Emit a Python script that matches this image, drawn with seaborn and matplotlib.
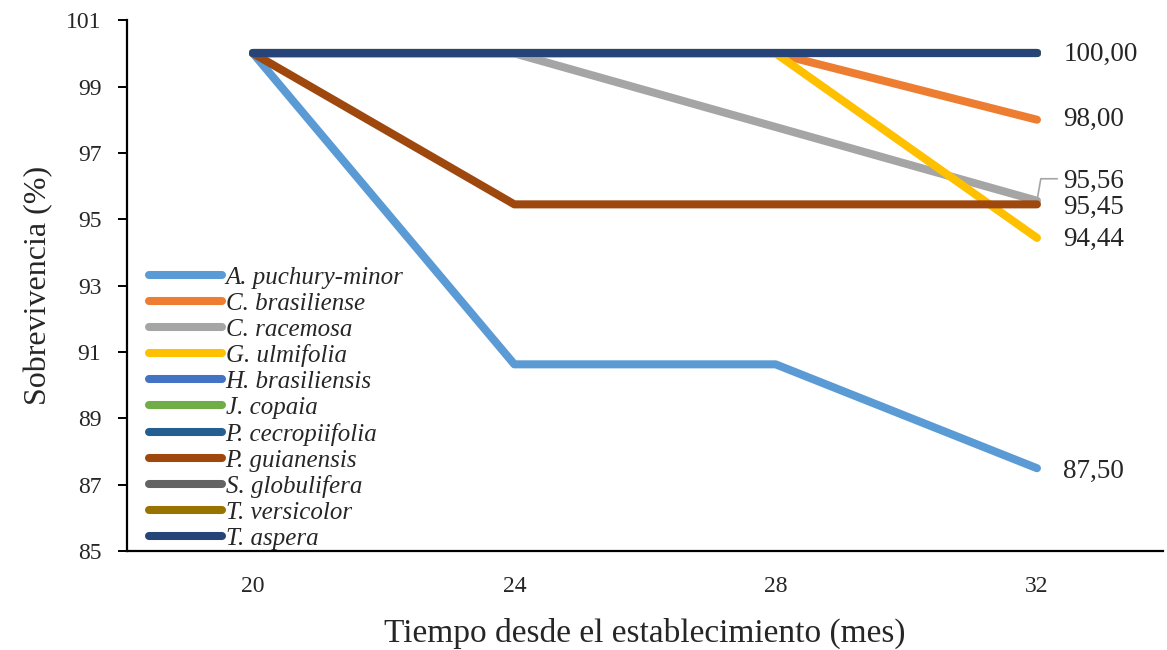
import matplotlib
matplotlib.use("Agg")
import matplotlib.pyplot as plt
from matplotlib.lines import Line2D
import seaborn as sns
import pandas as pd

# Months since establishment
months = [20, 24, 28, 32]

species = [
    "A. puchury-minor", "C. brasiliense", "C. racemosa", "G. ulmifolia",
    "H. brasiliensis", "J. copaia", "P. cecropiifolia", "P. guianensis",
    "S. globulifera", "T. versicolor", "T. aspera",
]

# Survival (%) per species at each month
a_puchury = [100.00, 90.63, 90.63, 87.50]
c_brasiliense = [100.00, 100.00, 100.00, 98.00]
c_racemosa = [100.00, 100.00, 97.78, 95.56]
g_ulmifolia = [100.00, 100.00, 100.00, 94.44]
h_brasiliensis = [100.00, 100.00, 100.00, 100.00]
j_copaia = [100.00, 100.00, 100.00, 100.00]
p_cecropiifolia = [100.00, 100.00, 100.00, 100.00]
p_guianensis = [100.00, 95.45, 95.45, 95.45]
s_globulifera = [100.00, 100.00, 100.00, 100.00]
t_versicolor = [100.00, 100.00, 100.00, 100.00]
t_aspera = [100.00, 100.00, 100.00, 100.00]

series = [a_puchury, c_brasiliense, c_racemosa, g_ulmifolia, h_brasiliensis,
          j_copaia, p_cecropiifolia, p_guianensis, s_globulifera,
          t_versicolor, t_aspera]

colors = ["#5B9BD5", "#ED7D31", "#A5A5A5", "#FFC000", "#4472C4", "#70AD47",
          "#255E91", "#9E480E", "#636363", "#997300", "#264478"]

rows = []
for name, vals in zip(species, series):
    for m, v in zip(months, vals):
        rows.append({"Mes": m, "Sobrevivencia": v, "Especie": name})
df = pd.DataFrame(rows)

sns.set_style("white")
plt.rcParams["font.family"] = ["Liberation Serif", "DejaVu Serif"]

fig = plt.figure(figsize=(11.67, 6.5), dpi=100)
ax = fig.add_axes([0.1088, 0.152, 0.8878, 0.817])

LW = 5.8
sns.lineplot(data=df, x="Mes", y="Sobrevivencia", hue="Especie",
             hue_order=species, palette=colors, linewidth=LW,
             legend=False, ax=ax)
for ln in ax.lines:
    ln.set_solid_capstyle("round")

ax.set_xlim(18.07, 33.93)
ax.set_ylim(85, 101)
ax.set_xticks(months)
ax.set_xticklabels([str(m) for m in months])
ax.set_yticks(range(85, 102, 2))

for side in ["top", "right"]:
    ax.spines[side].set_visible(False)
for side in ["left", "bottom"]:
    ax.spines[side].set_color("black")
    ax.spines[side].set_linewidth(1.6)

ax.tick_params(axis="y", direction="out", length=6.5, width=1.4,
               color="black", labelsize=17, pad=12, left=True)
ax.tick_params(axis="x", length=0, labelsize=17, pad=18)

ax.set_ylabel("Sobrevivencia (%)", fontsize=23, labelpad=9)
ax.set_xlabel("Tiempo desde el establecimiento (mes)", fontsize=24, labelpad=15)

# Final-value labels (one per distinct value)
def fmt(v):
    return f"{v:.2f}".replace(".", ",")

last = months[-1]
label_specs = [
    (t_aspera[-1], -1),
    (c_brasiliense[-1], 0),
    (p_guianensis[-1], -2.5),
    (g_ulmifolia[-1], -1),
    (a_puchury[-1], -2),
]
for v, dy in label_specs:
    ax.annotate(fmt(v), xy=(last, v), xytext=(19, dy), textcoords="offset points",
                ha="left", va="center", fontsize=19.5)

ax.annotate(fmt(c_racemosa[-1]), xy=(last, c_racemosa[-1]), xytext=(19, 14),
            textcoords="offset points", ha="left", va="center", fontsize=19.5,
            arrowprops=dict(arrowstyle="-", color="#A5A5A5", lw=1.2,
                            connectionstyle="angle,angleA=0,angleB=80,rad=0",
                            relpos=(0, 0.6), shrinkA=2, shrinkB=3))

handles = [Line2D([0], [0], color=c, lw=LW, solid_capstyle="round") for c in colors]
leg = ax.legend(handles, species, loc="lower left", bbox_to_anchor=(0.018, -0.005),
                frameon=False, prop={"style": "italic", "size": 18},
                handlelength=2.9, handletextpad=0.15, labelspacing=0.14,
                borderaxespad=0.0, borderpad=0.15)

fig.savefig("out.png", dpi=100)
